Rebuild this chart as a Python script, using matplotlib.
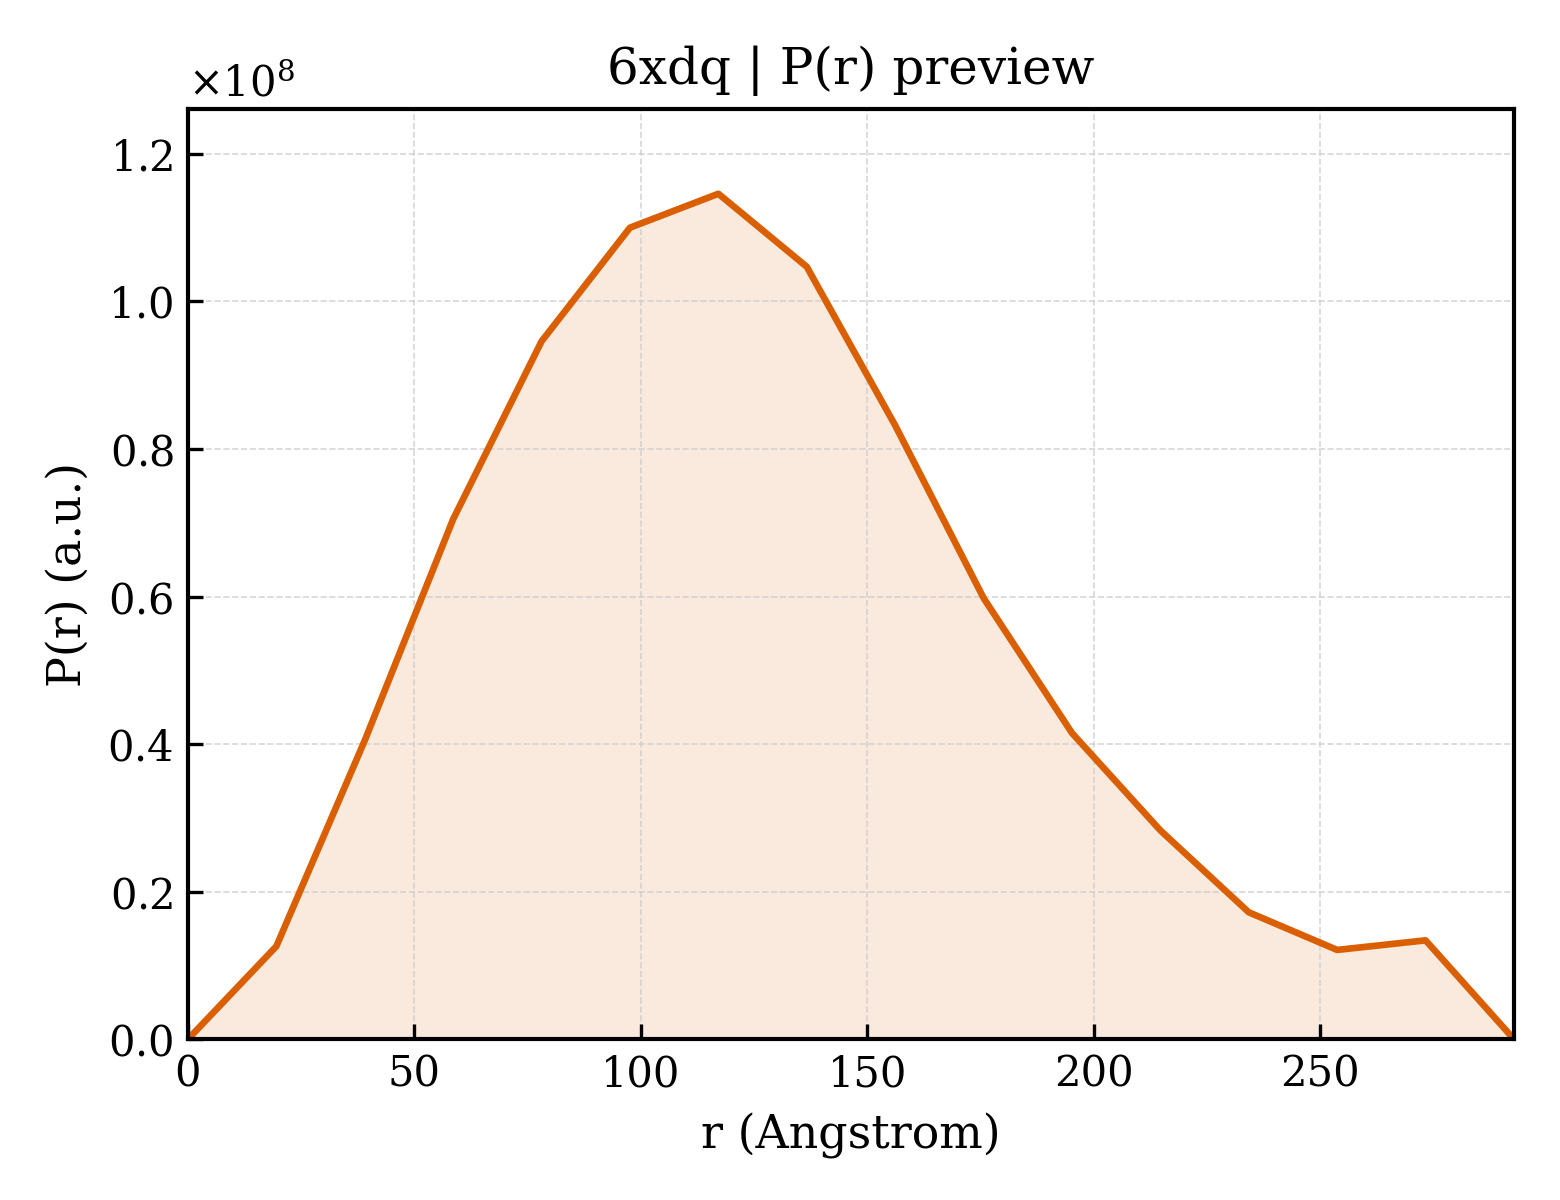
import numpy as np
import matplotlib
matplotlib.use('Agg')
import matplotlib.pyplot as plt

# P(r) values (units of 1e8)
r = np.linspace(0, 292.8, 16)
pr = np.array([0.0, 0.126, 0.405, 0.705, 0.946, 1.100, 1.146, 1.047,
               0.832, 0.598, 0.415, 0.283, 0.172, 0.121, 0.134, 0.0]) * 1e8

plt.rcParams['font.family'] = 'DejaVu Serif'
plt.rcParams['mathtext.fontset'] = 'dejavuserif'

fig = plt.figure(figsize=(5.2, 4), dpi=300)
ax = fig.add_axes([0.1205, 0.134, 0.85, 0.775])

color = '#d95f02'
ax.fill_between(r, pr, 0, color=color, alpha=0.13, linewidth=0)
ax.plot(r, pr, color=color, linewidth=1.6)

ax.set_xlim(0, r.max())
ax.set_ylim(0, pr.max() * 1.1)
ax.set_xlabel('r (Angstrom)', fontsize=11)
ax.set_ylabel('P(r) (a.u.)', fontsize=11)
ax.set_title('6xdq | P(r) preview', fontsize=12)
ax.tick_params(direction='in', labelsize=10)
ax.grid(True, linestyle='--', linewidth=0.4, color='#cccccc', alpha=0.8)
ax.ticklabel_format(axis='y', style='sci', scilimits=(0, 0), useMathText=True)
ax.yaxis.get_offset_text().set_fontsize(10)
for s in ax.spines.values():
    s.set_linewidth(1.0)

fig.savefig('out.png', dpi=300)
